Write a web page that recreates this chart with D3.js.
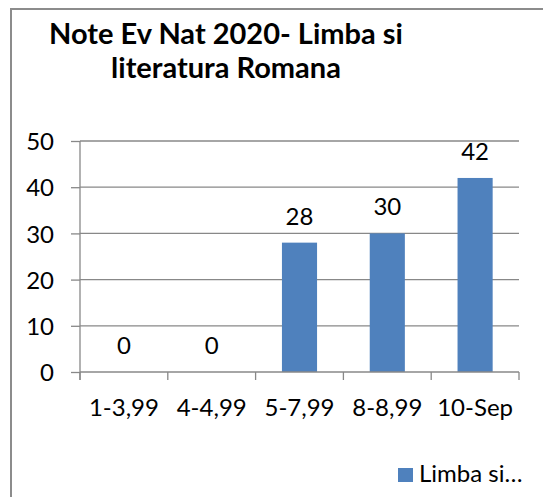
<!DOCTYPE html>
<html lang="en">
<head>
  <meta charset="UTF-8">
  <script src="https://d3js.org/d3.v7.min.js"></script>
  <title>Note Ev Nat 2020</title>
  <style>
    body { margin: 0; background: #fff; }
    text { font-family: Lato, "Open Sans", sans-serif; fill: #000; }
  </style>
</head>
<body>
  <div id="chart"></div>
  <script>
    const categories = ["1-3,99", "4-4,99", "5-7,99", "8-8,99", "10-Sep"];
    const values = [0, 0, 28, 30, 42];
    const y_ticks = [0, 10, 20, 30, 40, 50];
    const series_name = "Limba si…";
    const title_lines = ["Note Ev Nat 2020- Limba si", "literatura Romana"];

    const svg_width = 543;
    const svg_height = 497;
    const bar_color = "#4F81BD";
    const grid_color = "#888888";
    const font_size = 24;

    const plot_left = 80, plot_right = 519, plot_top = 141, plot_bottom = 372;

    const svg = d3.select("#chart")
      .append("svg")
      .attr("width", svg_width)
      .attr("height", svg_height);

    // outer chart border (right and bottom run off the picture)
    svg.append("rect")
      .attr("x", 11)
      .attr("y", 9)
      .attr("width", 560)
      .attr("height", 520)
      .attr("fill", "none")
      .attr("stroke", "#8c8c8c")
      .attr("stroke-width", 2);

    // title
    const title = svg.append("g");
    title_lines.forEach((t, i) => {
      title.append("text")
        .attr("x", 226)
        .attr("y", 44 + i * 34)
        .attr("text-anchor", "middle")
        .attr("font-weight", "bold")
        .attr("font-size", 29)
        .text(t);
    });

    const x = d3.scaleBand()
      .domain(categories)
      .range([plot_left, plot_right])
      .paddingInner(0.6)
      .paddingOuter(0.3);

    const y = d3.scaleLinear()
      .domain([0, 50])
      .range([plot_bottom, plot_top]);

    // gridlines
    svg.append("g")
      .selectAll("line")
      .data(y_ticks.filter(d => d > 0))
      .enter()
      .append("line")
      .attr("x1", plot_left)
      .attr("x2", plot_right)
      .attr("y1", d => y(d))
      .attr("y2", d => y(d))
      .attr("stroke", grid_color)
      .attr("stroke-width", 1.3);

    // y axis
    const y_axis = svg.append("g")
      .attr("transform", `translate(${plot_left},0)`)
      .call(d3.axisLeft(y).tickValues(y_ticks).tickSize(9).tickSizeOuter(0).tickPadding(17));
    y_axis.select(".domain").attr("stroke", grid_color).attr("stroke-width", 1.3)
      .attr("d", `M0,${plot_top}V${plot_bottom + 8}`);
    y_axis.selectAll(".tick line").attr("stroke", grid_color).attr("stroke-width", 1.3);
    y_axis.selectAll(".tick text")
      .attr("font-family", "Lato")
      .attr("font-size", font_size)
      .attr("fill", "#000")
      .attr("dy", "0.36em");

    // bars
    svg.append("g")
      .selectAll("rect")
      .data(values)
      .enter()
      .append("rect")
      .attr("fill", bar_color)
      .attr("x", (d, i) => x(categories[i]))
      .attr("y", d => y(d))
      .attr("width", x.bandwidth())
      .attr("height", d => y(0) - y(d));

    // x axis line and ticks at category boundaries
    const xa = svg.append("g");
    xa.append("line")
      .attr("x1", plot_left).attr("x2", plot_right)
      .attr("y1", y(0)).attr("y2", y(0))
      .attr("stroke", grid_color).attr("stroke-width", 1.3);
    xa.selectAll(".xt")
      .data(d3.range(categories.length + 1))
      .enter()
      .append("line")
      .attr("x1", i => plot_left + i * x.step())
      .attr("x2", i => plot_left + i * x.step())
      .attr("y1", y(0))
      .attr("y2", y(0) + 8)
      .attr("stroke", grid_color).attr("stroke-width", 1.3);
    xa.selectAll("text")
      .data(categories)
      .enter()
      .append("text")
      .attr("x", d => x(d) + x.bandwidth() / 2)
      .attr("y", 416)
      .attr("text-anchor", "middle")
      .attr("font-size", font_size)
      .text(d => d);

    // data labels
    svg.append("g")
      .selectAll("text")
      .data(values)
      .enter()
      .append("text")
      .attr("x", (d, i) => x(categories[i]) + x.bandwidth() / 2)
      .attr("y", d => y(d) - 18)
      .attr("text-anchor", "middle")
      .attr("font-size", font_size)
      .text(d => d);

    // legend
    const legend = svg.append("g");
    legend.append("rect")
      .attr("x", 398).attr("y", 468)
      .attr("width", 15).attr("height", 14)
      .attr("fill", bar_color);
    legend.append("text")
      .attr("x", 419)
      .attr("y", 482)
      .attr("font-size", font_size)
      .text(series_name);
  </script>
</body>
</html>
